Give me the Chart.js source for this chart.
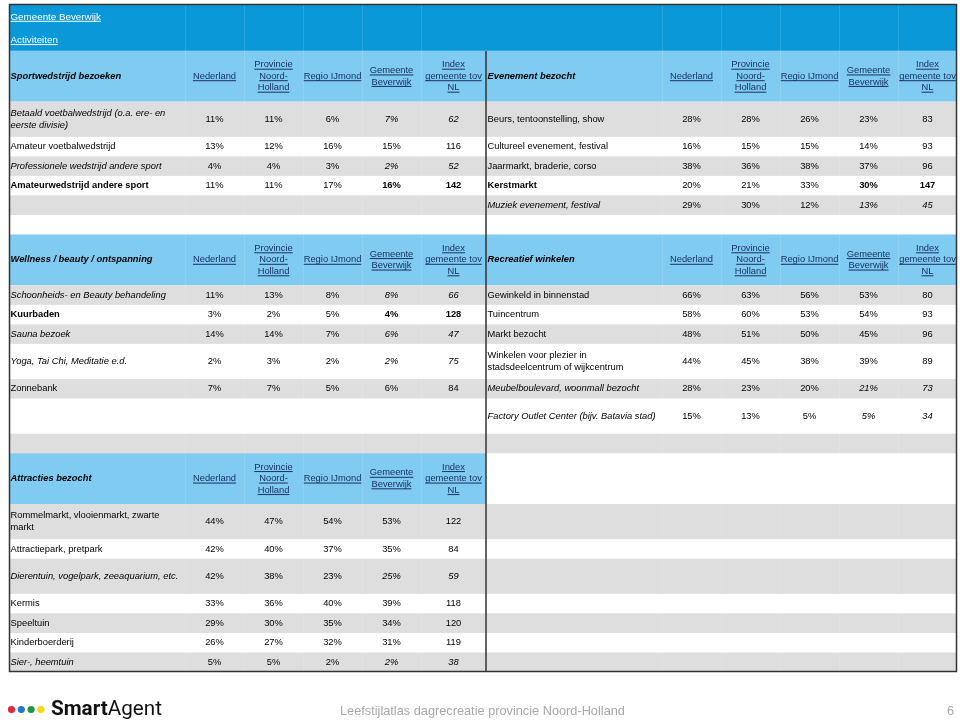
<!DOCTYPE html>
<html>
<head>
<meta charset="utf-8">
<script src="https://cdn.jsdelivr.net/npm/chart.js@4.4.1/dist/chart.umd.min.js"></script>
<style>
html,body{margin:0;padding:0;background:#ffffff;}
#wrap{position:relative;width:960px;height:721px;}
</style>
</head>
<body>
<div id="wrap"><canvas id="c" width="960" height="721"></canvas></div>
<script>
// ---------------- DATA ----------------
const pageTitle = "Gemeente Beverwijk";
const pageSubtitle = "Activiteiten";
const columnHeaders = [["Nederland"], ["Provincie", "Noord-", "Holland"], ["Regio IJmond"], ["Gemeente", "Beverwijk"], ["Index", "gemeente tov", "NL"]];

const sportTitle = "Sportwedstrijd bezoeken";
const sportCategories = ["Betaald voetbalwedstrijd (o.a. ere- en eerste divisie)", "Amateur voetbalwedstrijd", "Professionele wedstrijd andere sport", "Amateurwedstrijd andere sport"];
const sportPct = [[11, 11, 6, 7], [13, 12, 16, 15], [4, 4, 3, 2], [11, 11, 17, 16]];
const sportIndex = [62, 116, 52, 142];
const sportMark = ["i", "", "i", "b"];

const eventTitle = "Evenement bezocht";
const eventCategories = ["Beurs, tentoonstelling, show", "Cultureel evenement, festival", "Jaarmarkt, braderie, corso", "Kerstmarkt", "Muziek evenement, festival"];
const eventPct = [[28, 28, 26, 23], [16, 15, 15, 14], [38, 36, 38, 37], [20, 21, 33, 30], [29, 30, 12, 13]];
const eventIndex = [83, 93, 96, 147, 45];
const eventMark = ["", "", "", "b", "i"];

const wellTitle = "Wellness / beauty / ontspanning";
const wellCategories = ["Schoonheids- en Beauty behandeling", "Kuurbaden", "Sauna bezoek", "Yoga, Tai Chi, Meditatie e.d.", "Zonnebank"];
const wellPct = [[11, 13, 8, 8], [3, 2, 5, 4], [14, 14, 7, 6], [2, 3, 2, 2], [7, 7, 5, 6]];
const wellIndex = [66, 128, 47, 75, 84];
const wellMark = ["i", "b", "i", "i", ""];

const shopTitle = "Recreatief winkelen";
const shopCategories = ["Gewinkeld in binnenstad", "Tuincentrum", "Markt bezocht", "Winkelen voor plezier in stadsdeelcentrum of wijkcentrum", "Meubelboulevard, woonmall bezocht", "Factory Outlet Center (bijv. Batavia stad)"];
const shopPct = [[66, 63, 56, 53], [58, 60, 53, 54], [48, 51, 50, 45], [44, 45, 38, 39], [28, 23, 20, 21], [15, 13, 5, 5]];
const shopIndex = [80, 93, 96, 89, 73, 34];
const shopMark = ["", "", "", "", "i", "i"];

const attrTitle = "Attracties bezocht";
const attrCategories = ["Rommelmarkt, vlooienmarkt, zwarte markt", "Attractiepark, pretpark", "Dierentuin, vogelpark, zeeaquarium, etc.", "Kermis", "Speeltuin", "Kinderboerderij", "Sier-, heemtuin"];
const attrPct = [[44, 47, 54, 53], [42, 40, 37, 35], [42, 38, 23, 25], [33, 36, 40, 39], [29, 30, 35, 34], [26, 27, 32, 31], [5, 5, 2, 2]];
const attrIndex = [122, 84, 59, 118, 120, 119, 38];
const attrMark = ["", "", "i", "", "", "", "i"];

const footerText = "Leefstijlatlas dagrecreatie provincie Noord-Holland";
const pageNumber = "6";
const logoBold = "Smart";
const logoRegular = "Agent";

// ---------------- TABLES BUILT FROM DATA ----------------
const mk = (title, cats, pct, idx, mark) => ({ title, cats, pct, idx, mark });
const sportTable = mk(sportTitle, sportCategories, sportPct, sportIndex, sportMark);
const eventTable = mk(eventTitle, eventCategories, eventPct, eventIndex, eventMark);
const wellTable = mk(wellTitle, wellCategories, wellPct, wellIndex, wellMark);
const shopTable = mk(shopTitle, shopCategories, shopPct, shopIndex, shopMark);
const attrTable = mk(attrTitle, attrCategories, attrPct, attrIndex, attrMark);

// ---------------- LAYOUT (units of the chart's scales) ----------------
const LEFT_EDGES = [0, 176, 235, 294, 353, 412, 477];
const RIGHT_EDGES = [477, 653, 712, 771, 830, 889, 948];
const TOTAL_W = 948;
const BAND_H = 2.4, HEADER_H = 2.6, GAP_H = 1;
const LAYOUT = [
  { kind: "band", h: BAND_H },
  { kind: "section", left: sportTable, right: eventTable, slots: [1.8, 1, 1, 1, 1] },
  { kind: "gap", h: GAP_H },
  { kind: "section", left: wellTable, right: shopTable, slots: [1, 1, 1, 1.8, 1, 1.8, 1] },
  { kind: "section", left: attrTable, right: null, slots: [1.8, 1, 1.8, 1, 1, 1, 1] }
];
const TOTAL_H = LAYOUT.reduce((s, b) => s + (b.kind === "section" ? HEADER_H + b.slots.reduce((a, c) => a + c, 0) : b.h), 0);

const C_BAND = "#0a98d8";
const C_HEAD = "#80cbf1";
const C_GRAY = "#dedede";
const C_LINK = "#1a3263";
const C_BORDER = "#333333";
const FS = 9.35;
const FAM = '"Liberation Sans", Arial, sans-serif';

function fontFor(mark) {
  return (mark === "i" ? "italic " : "") + (mark === "b" ? "bold " : "") + FS + "px " + FAM;
}

const tablePlugin = {
  id: "tablePlugin",
  afterDraw(chart) {
    const { ctx } = chart;
    const xs = chart.scales.x, ys = chart.scales.y;
    const X = v => xs.getPixelForValue(v);
    const Y = v => ys.getPixelForValue(v);
    const rect = (x0, y0, x1, y1, c) => { ctx.fillStyle = c; ctx.fillRect(X(x0), Y(y0), X(x1) - X(x0), Y(y1) - Y(y0)); };
    ctx.save();
    ctx.textBaseline = "middle";

    function text(s, px, py, f, color, align, underline) {
      ctx.font = f; ctx.fillStyle = color; ctx.textAlign = align;
      ctx.fillText(s, px, py);
      if (underline) {
        const w = ctx.measureText(s).width;
        const x0 = align === "center" ? px - w / 2 : px;
        ctx.fillRect(x0, py + FS * 0.42, w, 1);
      }
    }
    function wrap(s, f, maxW) {
      ctx.font = f;
      const words = s.split(" ");
      const lines = []; let cur = "";
      for (const w of words) {
        const t = cur ? cur + " " + w : w;
        if (ctx.measureText(t).width > maxW && cur) { lines.push(cur); cur = w; } else cur = t;
      }
      if (cur) lines.push(cur);
      return lines;
    }
    const LH = 11.5;
    function multi(lines, px, cyPx, f, color, align, underline) {
      const n = lines.length;
      lines.forEach((l, k) => text(l, px, cyPx + (k - (n - 1) / 2) * LH, f, color, align, underline));
    }

    function headerRow(table, edges, y0) {
      const cyPx = (Y(y0) + Y(y0 + HEADER_H)) / 2;
      text(table.title, X(edges[0]) + 1.5, cyPx, "italic bold " + FS + "px " + FAM, "#000", "left", false);
      columnHeaders.forEach((lines, c) => {
        const cx = (X(edges[c + 1]) + X(edges[c + 2])) / 2;
        multi(lines, cx, cyPx, FS + "px " + FAM, C_LINK, "center", true);
      });
    }
    function dataRow(table, i, edges, y0, h) {
      const cyPx = (Y(y0) + Y(y0 + h)) / 2;
      const m = table.mark[i];
      const lines = wrap(table.cats[i], fontFor(m), 174);
      multi(lines, X(edges[0]) + 1.5, cyPx, fontFor(m), "#000", "left", false);
      table.pct[i].forEach((v, c) => {
        const cx = (X(edges[c + 1]) + X(edges[c + 2])) / 2;
        text(v + "%", cx, cyPx, fontFor(c === 3 ? m : ""), "#000", "center", false);
      });
      const cx = (X(edges[5]) + X(edges[6])) / 2;
      text(String(table.idx[i]), cx, cyPx, fontFor(m), "#000", "center", false);
    }

    let cy = 0;
    for (const b of LAYOUT) {
      if (b.kind === "band") {
        rect(0, cy, TOTAL_W, cy + b.h, C_BAND);
        text(pageTitle, X(0) + 1.5, Y(cy + 0.66), FS * 1.05 + "px " + FAM, "#ffffff", "left", true);
        text(pageSubtitle, X(0) + 1.5, Y(cy + 1.85), FS * 1.05 + "px " + FAM, "#ffffff", "left", true);
        cy += b.h;
      } else if (b.kind === "gap") {
        cy += b.h;
      } else {
        if (b.left) rect(LEFT_EDGES[0], cy, LEFT_EDGES[6], cy + HEADER_H, C_HEAD);
        if (b.right) rect(RIGHT_EDGES[0], cy, RIGHT_EDGES[6], cy + HEADER_H, C_HEAD);
        if (b.left) headerRow(b.left, LEFT_EDGES, cy);
        if (b.right) headerRow(b.right, RIGHT_EDGES, cy);
        cy += HEADER_H;
        b.slots.forEach((h, i) => {
          if (i % 2 === 0) rect(0, cy, TOTAL_W, cy + h, C_GRAY);
          if (b.left && i < b.left.cats.length) dataRow(b.left, i, LEFT_EDGES, cy, h);
          if (b.right && i < b.right.cats.length) dataRow(b.right, i, RIGHT_EDGES, cy, h);
          cy += h;
        });
      }
    }

    // very faint column separators
    ctx.fillStyle = "rgba(255,255,255,0.13)";
    [...LEFT_EDGES.slice(1, 6), ...RIGHT_EDGES.slice(1, 6)].forEach(e => {
      ctx.fillRect(Math.round(X(e)), Y(0), 1, Y(TOTAL_H) - Y(0));
    });

    // borders
    ctx.strokeStyle = C_BORDER;
    ctx.lineWidth = 1.5;
    ctx.strokeRect(X(0) + 0.5, Y(0) + 0.5, X(TOTAL_W) - X(0) - 1, Y(TOTAL_H) - Y(0) - 1);
    ctx.beginPath();
    ctx.moveTo(X(LEFT_EDGES[6]), Y(BAND_H));
    ctx.lineTo(X(LEFT_EDGES[6]), Y(TOTAL_H));
    ctx.stroke();

    // footer (logo and page caption)
    ctx.textBaseline = "alphabetic";
    const dots = ["#e0283a", "#1f78d1", "#1e9a3f", "#f6d90f"];
    dots.forEach((c, k) => {
      ctx.beginPath(); ctx.fillStyle = c;
      ctx.arc(11.5 + k * 9.8, 709.5, 3.6, 0, Math.PI * 2); ctx.fill();
    });
    const logoFam = 'Roboto, "Liberation Sans", sans-serif';
    let ls = 22;
    ctx.font = "bold " + ls + "px " + logoFam; let wb = ctx.measureText(logoBold).width;
    ctx.font = ls + "px " + logoFam; let wr = ctx.measureText(logoRegular).width;
    ls = ls * 111 / (wb + wr);
    ctx.textAlign = "left"; ctx.fillStyle = "#111";
    ctx.font = "bold " + ls + "px " + logoFam; wb = ctx.measureText(logoBold).width;
    ctx.fillText(logoBold, 51, 715);
    ctx.font = ls + "px " + logoFam;
    ctx.fillText(logoRegular, 51 + wb, 715);

    const footFam = '"Liberation Sans", Arial, sans-serif';
    let fs = 14;
    ctx.font = fs + "px " + footFam;
    fs = fs * 285 / ctx.measureText(footerText).width;
    ctx.font = fs + "px " + footFam;
    ctx.fillStyle = "#a8a8a8";
    ctx.fillText(footerText, 340, 715);
    ctx.textAlign = "right";
    ctx.fillText(pageNumber, 954, 715);
    ctx.restore();
  }
};

new Chart(document.getElementById("c").getContext("2d"), {
  type: "scatter",
  data: { datasets: [] },
  options: {
    responsive: false,
    animation: false,
    events: [],
    layout: { padding: { left: 9, right: 3, top: 4, bottom: 49 } },
    plugins: { legend: { display: false }, tooltip: { enabled: false }, title: { display: false } },
    scales: {
      x: { type: "linear", min: 0, max: TOTAL_W, display: false },
      y: { type: "linear", min: 0, max: TOTAL_H, reverse: true, display: false }
    }
  },
  plugins: [tablePlugin]
});
</script>
</body>
</html>
